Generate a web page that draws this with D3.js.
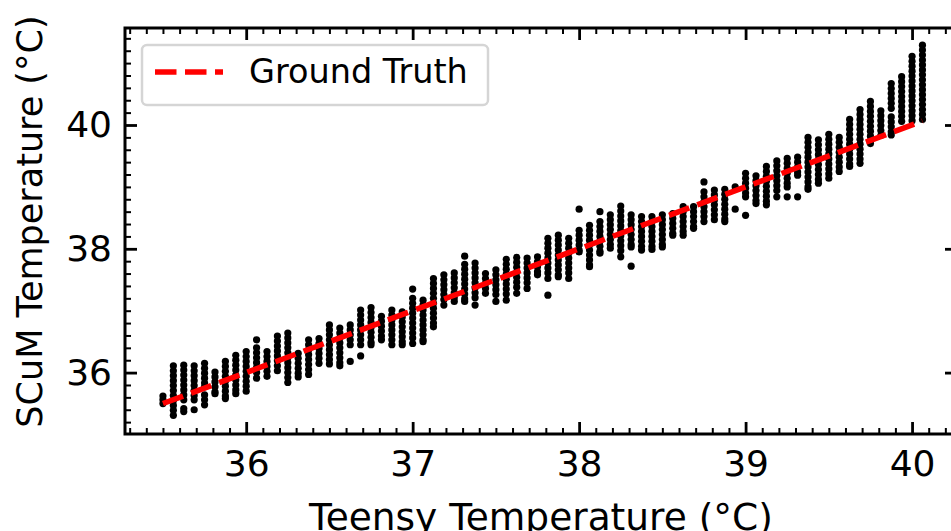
<!DOCTYPE html>
<html>
<head>
<meta charset="utf-8">
<script src="https://cdn.jsdelivr.net/npm/d3@7"></script>
<style>
  html, body { margin: 0; padding: 0; background: #fff; }
  svg { display: block; font-family: "DejaVu Sans", sans-serif; }
</style>
</head>
<body>
<svg id="chart"></svg>
<script>
// Teensy reading of each column (quantised to 1/16 degree)
var teensyTemps = [
  35.5, 35.5625, 35.625, 35.6875, 35.75, 35.8125, 35.875, 35.9375,
  36.0, 36.0625, 36.125, 36.1875, 36.25, 36.3125, 36.375, 36.4375,
  36.5, 36.5625, 36.625, 36.6875, 36.75, 36.8125, 36.875, 36.9375,
  37.0, 37.0625, 37.125, 37.1875, 37.25, 37.3125, 37.375, 37.4375,
  37.5, 37.5625, 37.625, 37.6875, 37.75, 37.8125, 37.875, 37.9375,
  38.0, 38.0625, 38.125, 38.1875, 38.25, 38.3125, 38.375, 38.4375,
  38.5, 38.5625, 38.625, 38.6875, 38.75, 38.8125, 38.875, 38.9375,
  39.0, 39.0625, 39.125, 39.1875, 39.25, 39.3125, 39.375, 39.4375,
  39.5, 39.5625, 39.625, 39.6875, 39.75, 39.8125, 39.875, 39.9375,
  40.0, 40.0625
];

// SCuM readings seen in each column
var scumTemps = [
  [35.62, 35.56, 35.5],
  [36.11, 36.03, 35.95, 35.87, 35.79, 35.71, 35.63, 35.55, 35.47, 35.39, 35.31],
  [36.12, 36.04, 35.96, 35.88, 35.8, 35.72, 35.64, 35.56, 35.42, 35.37],
  [36.11, 36.03, 35.95, 35.87, 35.79, 35.71, 35.63, 35.56, 35.4],
  [36.15, 36.07, 35.99, 35.91, 35.83, 35.77, 35.64, 35.56, 35.48],
  [36.01, 35.93, 35.85, 35.77, 35.69, 35.66],
  [36.18, 36.1, 36.02, 35.94, 35.86, 35.78, 35.7, 35.62, 35.58],
  [36.28, 36.2, 36.12, 36.04, 35.96, 35.88, 35.8, 35.72, 35.66],
  [36.34, 36.26, 36.18, 36.1, 36.02, 35.94, 35.86, 35.78, 35.7],
  [36.53, 36.4, 36.32, 36.24, 36.16, 36.08, 36.0, 35.91],
  [36.34, 36.26, 36.18, 36.1, 36.02, 35.94],
  [36.59, 36.51, 36.43, 36.35, 36.27, 36.19, 36.11, 36.03],
  [36.64, 36.56, 36.48, 36.4, 36.32, 36.24, 36.16, 36.08, 36.0, 35.92, 35.84],
  [36.31, 36.23, 36.15, 36.07, 35.99, 35.93],
  [36.53, 36.45, 36.37, 36.29, 36.21, 36.13, 36.05, 35.97],
  [36.55, 36.47, 36.39, 36.31, 36.23, 36.15],
  [36.77, 36.69, 36.61, 36.53, 36.45, 36.37, 36.29, 36.21, 36.14],
  [36.72, 36.64, 36.56, 36.48, 36.4, 36.32, 36.24, 36.16, 36.11],
  [36.77, 36.69, 36.61, 36.53, 36.45, 36.18],
  [37.01, 36.93, 36.85, 36.77, 36.69, 36.61, 36.53, 36.45, 36.27],
  [37.05, 36.97, 36.89, 36.81, 36.73, 36.65, 36.57, 36.49, 36.45],
  [36.91, 36.83, 36.75, 36.67, 36.59, 36.53],
  [37.01, 36.93, 36.85, 36.77, 36.69, 36.61, 36.53, 36.45],
  [36.98, 36.9, 36.82, 36.74, 36.66, 36.58, 36.5, 36.45],
  [37.35, 37.2, 37.12, 37.04, 36.96, 36.88, 36.8, 36.72, 36.64, 36.56, 36.47],
  [37.17, 37.09, 37.01, 36.93, 36.85, 36.77, 36.69, 36.61, 36.53, 36.5],
  [37.52, 37.44, 37.36, 37.28, 37.2, 37.12, 37.04, 36.96, 36.88, 36.8, 36.74],
  [37.58, 37.5, 37.42, 37.34, 37.26, 37.18, 37.09],
  [37.61, 37.53, 37.45, 37.37, 37.29, 37.21, 37.15],
  [37.88, 37.75, 37.67, 37.59, 37.51, 37.43, 37.35, 37.27, 37.19, 37.15],
  [37.77, 37.69, 37.61, 37.53, 37.45, 37.37, 37.29, 37.21, 37.09],
  [37.6, 37.52, 37.44, 37.36, 37.28],
  [37.66, 37.58, 37.5, 37.42, 37.34, 37.26, 37.15],
  [37.83, 37.75, 37.67, 37.59, 37.51, 37.43, 37.35, 37.27, 37.17],
  [37.86, 37.78, 37.7, 37.62, 37.54, 37.46, 37.38, 37.28],
  [37.85, 37.77, 37.69, 37.61, 37.53, 37.45, 37.36],
  [37.87, 37.79, 37.71, 37.63, 37.58],
  [38.17, 38.09, 38.01, 37.93, 37.85, 37.77, 37.69, 37.61, 37.52, 37.25],
  [38.22, 38.14, 38.06, 37.98, 37.9, 37.82, 37.74, 37.66, 37.58, 37.55],
  [38.17, 38.09, 38.01, 37.93, 37.85, 37.77, 37.69, 37.61, 37.52],
  [38.64, 38.3, 38.22, 38.14, 38.06, 37.98, 37.95],
  [38.38, 38.3, 38.22, 38.14, 38.06, 37.98, 37.9, 37.82, 37.74, 37.71],
  [38.6, 38.44, 38.36, 38.28, 38.2, 38.12, 38.04, 37.96, 37.93],
  [38.55, 38.47, 38.39, 38.31, 38.23, 38.15, 38.07, 38.01],
  [38.69, 38.61, 38.53, 38.45, 38.37, 38.29, 38.21, 38.13, 38.05, 37.97, 37.87],
  [38.55, 38.47, 38.39, 38.31, 38.23, 38.15, 38.07, 38.03, 37.72],
  [38.52, 38.44, 38.36, 38.28, 38.2, 38.12, 38.04, 37.98],
  [38.52, 38.44, 38.36, 38.28, 38.2, 38.12, 38.04, 37.99],
  [38.55, 38.47, 38.39, 38.31, 38.23, 38.15, 38.07, 38.03],
  [38.57, 38.49, 38.41, 38.33, 38.25, 38.22],
  [38.68, 38.6, 38.52, 38.44, 38.36, 38.28, 38.22],
  [38.68, 38.6, 38.52, 38.44, 38.36, 38.33],
  [39.08, 38.92, 38.84, 38.76, 38.68, 38.6, 38.52, 38.44],
  [38.95, 38.87, 38.79, 38.71, 38.63, 38.55, 38.47],
  [38.96, 38.88, 38.8, 38.72, 38.64, 38.56, 38.48, 38.44],
  [39.0, 38.64],
  [39.22, 39.14, 39.06, 38.98, 38.9, 38.84, 38.54],
  [39.18, 39.1, 39.02, 38.94, 38.86, 38.78, 38.73],
  [39.33, 39.25, 39.17, 39.09, 39.01, 38.93, 38.85, 38.77, 38.71],
  [39.42, 39.34, 39.26, 39.18, 39.1, 39.02, 38.94, 38.84],
  [39.46, 39.38, 39.3, 39.22, 39.14, 39.06, 39.0, 38.84],
  [39.48, 39.4, 39.32, 39.24, 39.19, 38.84],
  [39.8, 39.72, 39.64, 39.56, 39.48, 39.4, 39.32, 39.24, 39.16, 39.08, 39.0, 38.96],
  [39.76, 39.68, 39.6, 39.52, 39.44, 39.36, 39.28, 39.2, 39.12, 39.06],
  [39.85, 39.77, 39.69, 39.61, 39.53, 39.45, 39.37, 39.29, 39.21, 39.14],
  [39.8, 39.72, 39.64, 39.56, 39.48, 39.4, 39.32, 39.25],
  [40.09, 40.01, 39.93, 39.85, 39.77, 39.69, 39.61, 39.53, 39.45, 39.37, 39.33],
  [40.25, 40.17, 40.09, 40.01, 39.93, 39.85, 39.77, 39.69, 39.61, 39.53, 39.45, 39.38],
  [40.38, 40.3, 40.22, 40.14, 40.06, 39.98, 39.9, 39.82, 39.74, 39.7],
  [40.23, 40.15, 40.07, 39.99, 39.91, 39.83],
  [40.67, 40.59, 40.51, 40.43, 40.35, 40.27, 40.13, 40.05, 39.97, 39.89, 39.84],
  [40.78, 40.7, 40.62, 40.54, 40.46, 40.38, 40.3, 40.22, 40.14, 40.06],
  [41.11, 41.03, 40.95, 40.87, 40.79, 40.71, 40.63, 40.55, 40.47, 40.39, 40.31, 40.23, 40.15, 40.07],
  [41.29, 41.21, 41.13, 41.05, 40.97, 40.89, 40.81, 40.73, 40.65, 40.57, 40.49, 40.41, 40.33, 40.25, 40.17, 40.09]
];

var groundTruth = [35.5, 40.0625];
var xTicks = [36, 37, 38, 39, 40];
var yTicks = [36, 38, 40];
var legendLabels = ['Ground Truth'];

var width = 951;
var height = 531;
var tickFont = 36;

var svg = d3.select('#chart')
  .attr('width', width)
  .attr('height', height);

var plot = { left: 125, right: 957, top: 28, bottom: 434 };

var x = d3.scaleLinear()
  .domain([35.272, 40.27])
  .range([plot.left, plot.right]);

var y = d3.scaleLinear()
  .domain([35.008, 41.567])
  .range([plot.bottom, plot.top]);

var points = [];
teensyTemps.forEach(function(t, i) {
  scumTemps[i].forEach(function(s) {
    points.push({ teensy: t, scum: s });
  });
});

// scatter
svg.append('g')
  .selectAll('circle')
  .data(points)
  .enter()
  .append('circle')
  .attr('cx', function(d) { return x(d.teensy); })
  .attr('cy', function(d) { return y(d.scum); })
  .attr('r', 3.6)
  .attr('fill', '#000');

// ground truth line y = x
svg.append('line')
  .attr('x1', x(groundTruth[0]))
  .attr('y1', y(groundTruth[0]))
  .attr('x2', x(groundTruth[1]))
  .attr('y2', y(groundTruth[1]))
  .attr('stroke', '#ff0000')
  .attr('stroke-width', 5.5)
  .attr('stroke-dasharray', '21.5,8.5');

// axes, ticks pointing inward on all four sides
var xMinor = d3.range(35.3, 40.27, 0.1).map(function(v) { return Math.round(v * 10) / 10; })
  .filter(function(v) { return xTicks.indexOf(v) < 0; });
var yMinor = d3.range(35.2, 41.567, 0.2).map(function(v) { return Math.round(v * 10) / 10; })
  .filter(function(v) { return yTicks.indexOf(v) < 0; });

function styleAxis(g, w) {
  g.select('.domain').remove();
  g.selectAll('line').attr('stroke', '#000').attr('stroke-width', w);
  g.selectAll('text')
    .attr('fill', '#000')
    .style('font-size', tickFont + 'px')
    .style('font-family', '"DejaVu Sans", sans-serif');
}

var axes = [
  { gen: d3.axisBottom(x), tr: 'translate(0,' + plot.bottom + ')', major: xTicks, minor: xMinor, label: true, pad: 16 },
  { gen: d3.axisTop(x), tr: 'translate(0,' + plot.top + ')', major: xTicks, minor: xMinor, label: false, pad: 0 },
  { gen: d3.axisLeft(y), tr: 'translate(' + plot.left + ',0)', major: yTicks, minor: yMinor, label: true, pad: 13 },
  { gen: d3.axisRight(y), tr: 'translate(' + plot.right + ',0)', major: yTicks, minor: yMinor, label: false, pad: 0 }
];

axes.forEach(function(a) {
  svg.append('g')
    .attr('transform', a.tr)
    .call(a.gen.tickValues(a.minor).tickSizeInner(-6).tickSizeOuter(0).tickFormat(''))
    .call(styleAxis, 2);
});

axes.forEach(function(a) {
  var major = a.gen.scale() === x
    ? (a.label ? d3.axisBottom(x) : d3.axisTop(x))
    : (a.label ? d3.axisLeft(y) : d3.axisRight(y));
  svg.append('g')
    .attr('transform', a.tr)
    .call(major.tickValues(a.major).tickSizeInner(-12).tickSizeOuter(0).tickPadding(a.pad)
      .tickFormat(a.label ? d3.format('d') : ''))
    .call(styleAxis, 2.8);
});

// frame
svg.append('rect')
  .attr('x', plot.left)
  .attr('y', plot.top)
  .attr('width', plot.right - plot.left)
  .attr('height', plot.bottom - plot.top)
  .attr('fill', 'none')
  .attr('stroke', '#000')
  .attr('stroke-width', 3);

// axis titles
svg.append('text')
  .attr('x', (plot.left + plot.right) / 2)
  .attr('y', 530)
  .attr('text-anchor', 'middle')
  .style('font-size', '37.5px')
  .text('Teensy Temperature (°C)');

svg.append('text')
  .attr('transform', 'translate(42,221.5) rotate(-90)')
  .attr('text-anchor', 'middle')
  .style('font-size', '35px')
  .text('SCuM Temperature (°C)');

// legend
var legend = svg.append('g');
legend.append('rect')
  .attr('x', 142)
  .attr('y', 45)
  .attr('width', 346)
  .attr('height', 60)
  .attr('rx', 5)
  .attr('fill', 'rgba(255,255,255,0.8)')
  .attr('stroke', '#d5d5d5')
  .attr('stroke-width', 2.5);

legend.append('line')
  .attr('x1', 155)
  .attr('x2', 223)
  .attr('y1', 72)
  .attr('y2', 72)
  .attr('stroke', '#ff0000')
  .attr('stroke-width', 5.5)
  .attr('stroke-dasharray', '21.5,8.5');

legend.append('text')
  .attr('x', 249)
  .attr('y', 83)
  .style('font-size', '33.5px')
  .text(legendLabels[0]);
</script>
</body>
</html>
